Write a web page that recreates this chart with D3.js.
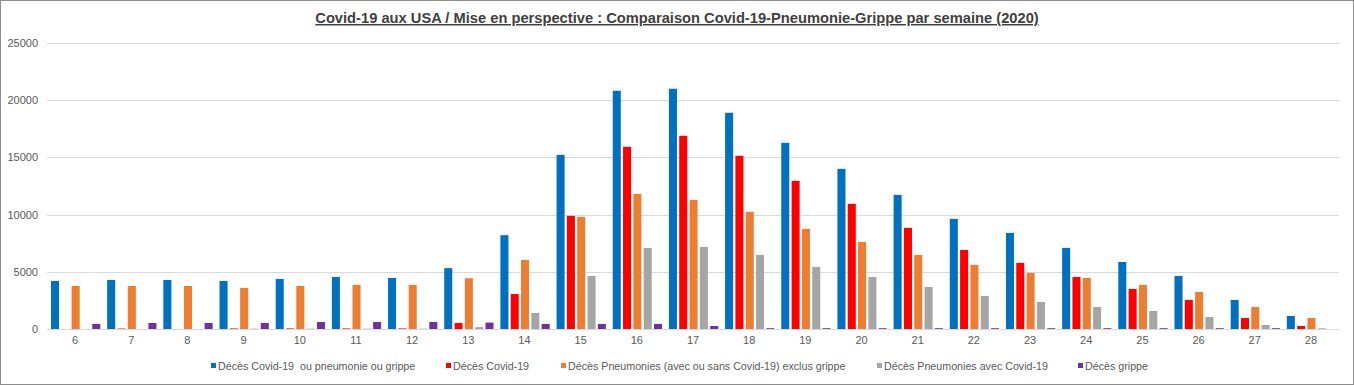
<!DOCTYPE html>
<html><head><meta charset="utf-8">
<script src="https://cdn.jsdelivr.net/npm/d3@7"></script>
<style>
html,body{margin:0;padding:0;background:#fff;}
svg{display:block;}
</style></head>
<body>
<svg id="chart" width="1354" height="385"></svg>
<script>
const weeks = [6,7,8,9,10,11,12,13,14,15,16,17,18,19,20,21,22,23,24,25,26,27,28];
const totalDeaths = [4200,4290,4290,4200,4375,4550,4460,5320,8200,15225,20825,21000,18900,16275,14000,11725,9625,8400,7090,5860,4640,2540,1140];
const covidDeaths = [0,40,0,50,50,50,50,520,3060,9890,15925,16890,15140,12950,10940,8840,6910,5775,4550,3500,2540,960,260];
const pneumoDeaths = [3760,3760,3760,3590,3760,3850,3850,4440,6040,9800,11810,11290,10240,8750,7610,6475,5600,4900,4460,3850,3240,1925,960];
const pneumoCovidDeaths = [0,0,0,30,30,30,30,160,1400,4640,7090,7175,6475,5425,4550,3675,2890,2360,1925,1575,1050,350,60];
const fluDeaths = [440,525,525,525,610,610,610,560,440,440,440,260,70,70,70,70,70,70,70,70,70,70,0];
const seriesNames = ["Décès Covid-19  ou pneumonie ou grippe","Décès Covid-19","Décès Pneumonies (avec ou sans Covid-19) exclus grippe","Décès Pneumonies avec Covid-19","Décès grippe"];
const seriesColors = ["#0070c0","#ff0000","#ed7d31","#a5a5a5","#7030a0"];
const yTicks = [0,5000,10000,15000,20000,25000];
const titleText = "Covid-19 aux USA / Mise en perspective : Comparaison  Covid-19-Pneumonie-Grippe par semaine (2020)";

const seriesValues = [totalDeaths, covidDeaths, pneumoDeaths, pneumoCovidDeaths, fluDeaths];
const svg = d3.select("#chart");
const W = 1354, H = 385;
const plot = {left:47, right:1339, top:43, bottom:329};
const font = "'Liberation Sans',Arial,sans-serif";

// border
svg.append("rect").attr("x",0.5).attr("y",0.5).attr("width",W-1).attr("height",H-1)
  .attr("fill","#fff").attr("stroke","#8c8c8c").attr("stroke-width",1);

const x0 = d3.scaleBand().domain(weeks).range([plot.left, plot.right]).paddingInner(0).paddingOuter(0);
const x1 = d3.scaleBand().domain(d3.range(seriesNames.length)).range([4, 53.3]).paddingInner(0.22).paddingOuter(0);
const y = d3.scaleLinear().domain([0,25000]).range([plot.bottom, plot.top]);

// gridlines
svg.append("g").selectAll("line").data(yTicks).join("line")
  .attr("x1",plot.left).attr("x2",plot.right)
  .attr("y1",d=>Math.round(y(d))+0.5).attr("y2",d=>Math.round(y(d))+0.5)
  .attr("stroke","#d9d9d9").attr("stroke-width",1);

// y axis labels
const yAxis = d3.axisLeft(y).tickValues(yTicks).tickSize(0).tickPadding(0).tickFormat(d3.format("d"));
const gy = svg.append("g").attr("transform",`translate(${38},0)`).call(yAxis);
gy.select(".domain").remove();
gy.selectAll("text").attr("font-family",font).attr("font-size","11px").attr("fill","#595959");

// bars
const groups = svg.append("g").selectAll("g").data(weeks).join("g")
  .attr("transform",d=>`translate(${x0(d)},0)`);
groups.selectAll("rect").data((w,i)=>seriesValues.map((s,k)=>({k, v:s[i]}))).join("rect")
  .attr("x",d=>x1(d.k)).attr("width",x1.bandwidth())
  .attr("y",d=>y(d.v)).attr("height",d=>plot.bottom - y(d.v))
  .attr("fill",d=>seriesColors[d.k]);

// x axis
const xAxis = d3.axisBottom(x0).tickSize(0).tickPadding(7);
const gx = svg.append("g").attr("transform",`translate(0,${plot.bottom})`).call(xAxis);
gx.select(".domain").attr("stroke","#d9d9d9");
gx.selectAll("text").attr("font-family",font).attr("font-size","11px").attr("fill","#595959");

// title
svg.append("text").attr("x",677).attr("y",23).attr("text-anchor","middle")
  .attr("font-family",font).attr("font-size","14.7px").attr("font-weight","bold")
  .attr("fill","#404040").attr("text-decoration","underline").text(titleText);

// legend
const legendX = [211,446,561,877,1078];
const lg = svg.append("g").selectAll("g").data(seriesNames).join("g")
  .attr("transform",(d,i)=>`translate(${legendX[i]},366)`);
lg.append("rect").attr("x",0).attr("y",-3).attr("width",5).attr("height",5).attr("fill",(d,i)=>seriesColors[i]);
lg.append("text").attr("x",7).attr("y",0).attr("dy","0.35em")
  .attr("font-family",font).attr("font-size","10.7px").attr("fill","#595959")
  .style("white-space","pre").text(d=>d);
</script>
</body></html>
